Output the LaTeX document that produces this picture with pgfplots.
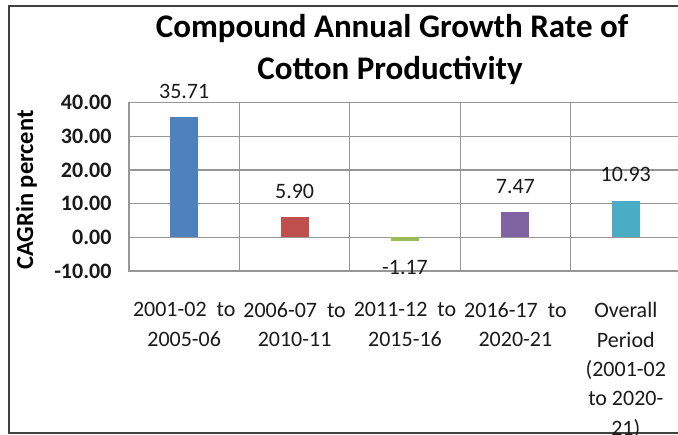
\documentclass[border=0pt]{standalone}
\usepackage{fontspec}
\setmainfont{Carlito}
\usepackage{pgfplots}
\pgfplotsset{compat=1.18}
\definecolor{cblue}{HTML}{4F81BD}
\definecolor{cred}{HTML}{C0504D}
\definecolor{cgreen}{HTML}{9BBB59}
\definecolor{cpurple}{HTML}{8064A2}
\definecolor{cteal}{HTML}{4BACC6}
\definecolor{cgrid}{HTML}{969696}
\definecolor{ctext}{HTML}{1A1A1A}
\definecolor{cframe}{HTML}{404040}
\begin{document}
\begin{tikzpicture}[x=1pt,y=1pt]
\path[use as bounding box] (0,0) rectangle (678,435);
\draw[line width=2.2pt, cframe] (700,429) -- (9,429) -- (9,2) -- (700,2);
\node[font=\bfseries\fontsize{33}{40}\selectfont, anchor=base, text=black] at (392,397) {Compound Annual Growth Rate of};
\node[font=\bfseries\fontsize{33}{40}\selectfont, anchor=base, text=black] at (390,355) {Cotton Productivity};
\node[font=\bfseries\fontsize{24.5}{29}\selectfont, anchor=base, rotate=90, text=black] at (33,245) {CAGRin percent};
\begin{axis}[
  at={(129pt,164pt)}, anchor=south west,
  scale only axis, width=552pt, height=168.3pt,
  xmin=-0.5, xmax=4.5, ymin=-10, ymax=40,
  ytick={-10,0,10,20,30,40},
  xtick={0,1,2,3,4},
  xticklabels={{2001-02\hspace{10pt}to\\2005-06},{2006-07\hspace{10pt}to\\2010-11},{2011-12\hspace{10pt}to\\2015-16},{2016-17\hspace{10pt}to\\2020-21},{Overall\\Period\\(2001-02\\to 2020-\\21)}},
  minor xtick={0.5,1.5,2.5,3.5},
  ymajorgrids, xminorgrids,
  major tick length=0pt, minor tick length=0pt,
  axis line style={cgrid, line width=1.3pt},
  grid style={cgrid, line width=1.3pt},
  minor grid style={cgrid, line width=1.3pt},
  /pgf/number format/assume math mode=true,
  /pgf/number format/fixed, /pgf/number format/fixed zerofill, /pgf/number format/precision=2,
  yticklabel style={font=\bfseries\fontsize{22}{26}\selectfont, text=ctext, xshift=-14pt},
  xticklabel style={font=\fontsize{22}{29.3}\selectfont, text=ctext, align=center, yshift=-28pt},
  nodes near coords style={font=\fontsize{22}{26}\selectfont, text=ctext, inner sep=0pt, /pgf/number format/fixed, /pgf/number format/fixed zerofill, /pgf/number format/precision=2},
]
\addplot[ybar, bar width=28pt, bar shift=0pt, fill=cblue, draw=none, nodes near coords, nodes near coords style={yshift=18.5pt}] coordinates {(0,35.71)};
\addplot[ybar, bar width=28pt, bar shift=0pt, fill=cred, draw=none, nodes near coords, nodes near coords style={yshift=18.5pt}] coordinates {(1,5.90)};
\addplot[ybar, bar width=28pt, bar shift=0pt, fill=cgreen, draw=none, nodes near coords, nodes near coords style={yshift=-19pt}] coordinates {(2,-1.17)};
\addplot[ybar, bar width=28pt, bar shift=0pt, fill=cpurple, draw=none, nodes near coords, nodes near coords style={yshift=18.5pt}] coordinates {(3,7.47)};
\addplot[ybar, bar width=28pt, bar shift=0pt, fill=cteal, draw=none, nodes near coords, nodes near coords style={yshift=18.5pt}] coordinates {(4,10.93)};
\end{axis}
\end{tikzpicture}
\end{document}
